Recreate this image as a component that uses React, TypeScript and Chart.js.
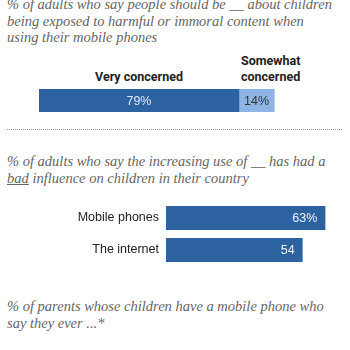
import React, { useEffect, useRef } from "react";
import { Chart, registerables } from "chart.js";

Chart.register(...registerables);

const concernSeries = ["Very concerned", "Somewhat concerned"];
const concernValues = [79, 14];
const concernValueLabels = ["79%", "14%"];
const influenceCategories = ["Mobile phones", "The internet"];
const influenceValues = [63, 54];
const influenceValueLabels = ["63%", "54"];

const DARK = "#2c62a0";
const LIGHT = "#8db4e2";

const serif: React.CSSProperties = {
  position: "absolute",
  left: 7,
  fontFamily: "'Liberation Serif', serif",
  fontStyle: "italic",
  fontSize: 14.5,
  lineHeight: "16.5px",
  color: "#666",
  whiteSpace: "nowrap",
};

const boldLabel: React.CSSProperties = {
  position: "absolute",
  fontFamily: "Roboto, 'Liberation Sans', sans-serif",
  fontWeight: 700,
  fontSize: 12.5,
  lineHeight: "16px",
  color: "#222",
  whiteSpace: "nowrap",
};

const valueLabelPlugin = {
  id: "valueLabels",
  afterDatasetsDraw(chart: any) {
    const ctx = chart.ctx;
    const mode = chart.options.plugins.valueLabels.mode;
    ctx.save();
    ctx.font = "12.5px 'Liberation Sans', Arial, sans-serif";
    ctx.textBaseline = "middle";
    chart.data.datasets.forEach((ds: any, di: number) => {
      const meta = chart.getDatasetMeta(di);
      meta.data.forEach((bar: any, i: number) => {
        const lbl = ds.valueLabels[i];
        if (mode === "center") {
          ctx.textAlign = "center";
          ctx.fillStyle = ds.labelColor;
          ctx.fillText(lbl, (bar.x + bar.base) / 2, bar.y + 1);
        } else {
          ctx.textAlign = "right";
          ctx.fillStyle = "#eef3fa";
          ctx.fillText(lbl, bar.x - 8, bar.y + 1);
        }
      });
    });
    ctx.restore();
  },
};

export default function App() {
  const ref1 = useRef<HTMLCanvasElement>(null);
  const ref2 = useRef<HTMLCanvasElement>(null);

  useEffect(() => {
    const c1 = new Chart(ref1.current!, {
      type: "bar",
      data: {
        labels: ["all"],
        datasets: concernSeries.map((s, i) => ({
          label: s,
          data: [concernValues[i]],
          backgroundColor: i === 0 ? DARK : LIGHT,
          borderWidth: 0,
          barPercentage: 1,
          categoryPercentage: 1,
          valueLabels: [concernValueLabels[i]],
          labelColor: i === 0 ? "#dfe8f3" : "#333",
        })) as any,
      },
      options: {
        indexAxis: "y",
        animation: false,
        responsive: false,
        maintainAspectRatio: false,
        layout: { padding: 0 },
        scales: {
          x: { stacked: true, min: 0, max: 100, display: false },
          y: { stacked: true, display: false },
        },
        plugins: {
          legend: { display: false },
          tooltip: { enabled: false },
          valueLabels: { mode: "center" },
        } as any,
      },
      plugins: [valueLabelPlugin],
    });

    const c2 = new Chart(ref2.current!, {
      type: "bar",
      data: {
        labels: influenceCategories,
        datasets: [
          {
            label: "Bad influence",
            data: influenceValues,
            backgroundColor: DARK,
            borderWidth: 0,
            barPercentage: 0.75,
            categoryPercentage: 1,
            valueLabels: influenceValueLabels,
          } as any,
        ],
      },
      options: {
        indexAxis: "y",
        animation: false,
        responsive: false,
        maintainAspectRatio: false,
        layout: { padding: 0 },
        scales: {
          x: { min: 0, max: 100, display: false },
          y: {
            grid: { display: false, drawTicks: false },
            border: { display: false },
            ticks: {
              padding: 7,
              color: "#222",
              font: { family: "'Liberation Sans', Arial, sans-serif", size: 12.5 },
            },
            afterFit(scale: any) {
              scale.width = 166;
              scale.paddingTop = 0;
              scale.paddingBottom = 0;
            },
          },
        },
        plugins: {
          legend: { display: false },
          tooltip: { enabled: false },
          valueLabels: { mode: "right" },
        } as any,
      },
      plugins: [valueLabelPlugin],
    });

    return () => {
      c1.destroy();
      c2.destroy();
    };
  }, []);

  return (
    <div
      style={{
        position: "fixed",
        left: 0,
        top: 0,
        width: 350,
        height: 350,
        overflow: "hidden",
        background: "#fff",
      }}
    >
      <div style={{ ...serif, top: -4 }}>
        % of adults who say people should be __ about children
        <br />
        being exposed to harmful or immoral content when
        <br />
        using their mobile phones
      </div>

      <div style={{ ...boldLabel, top: 69, left: 39, width: 200, textAlign: "center" }}>
        Very concerned
      </div>
      <div style={{ ...boldLabel, top: 53, left: 241 }}>
        Somewhat
        <br />
        concerned
      </div>

      <canvas
        ref={ref1}
        width={253}
        height={23}
        style={{ position: "absolute", left: 39, top: 89, width: 253, height: 23 }}
      />

      <div
        style={{
          position: "absolute",
          left: 7,
          top: 129,
          width: 335,
          borderTop: "1px dotted #999",
        }}
      />

      <div style={{ ...serif, top: 153 }}>
        % of adults who say the increasing use of __ has had a
        <br />
        <span style={{ textDecoration: "underline" }}>bad</span> influence on children in their country
      </div>

      <canvas
        ref={ref2}
        width={419}
        height={64}
        style={{ position: "absolute", left: 0, top: 202, width: 419, height: 64 }}
      />

      <div style={{ ...serif, top: 298 }}>
        % of parents whose children have a mobile phone who
        <br />
        say they ever ...*
      </div>
    </div>
  );
}
